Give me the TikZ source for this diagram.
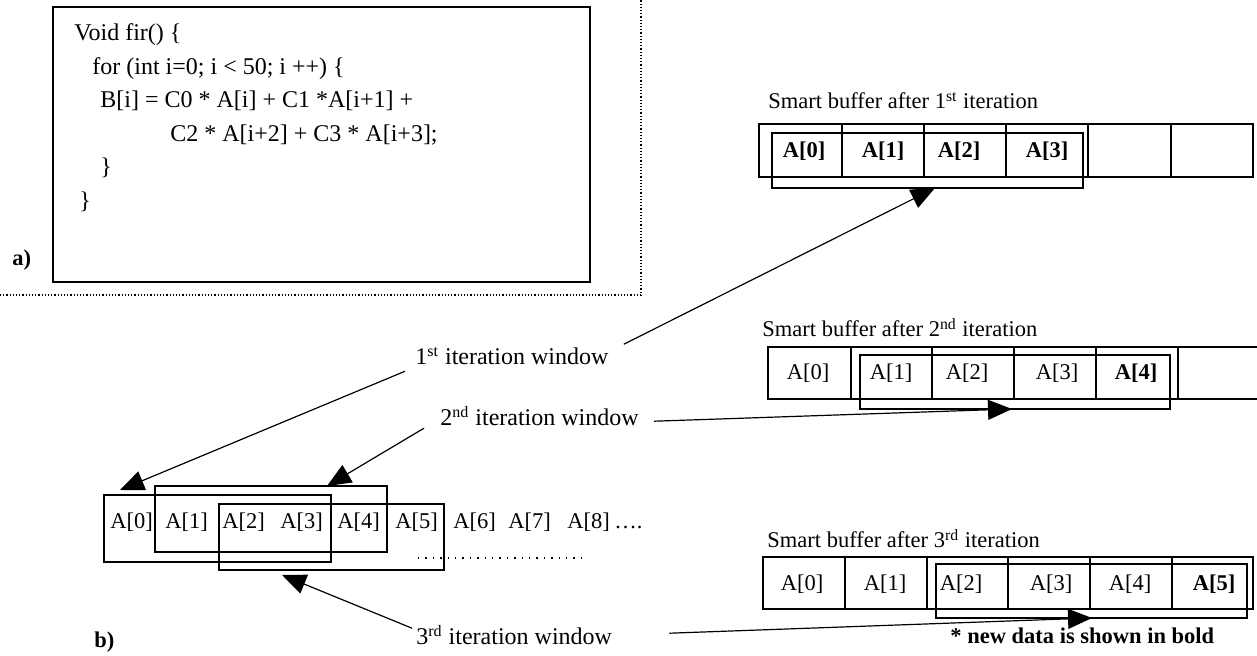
\documentclass[tikz,border=0pt]{standalone}
\usepackage{fontspec}
\setmainfont{Liberation Serif}
\usetikzlibrary{arrows.meta,calc}
\newcommand\codefont{\fontsize{12}{14}\selectfont}
\newcommand\labfont{\fontsize{11.25}{13.5}\selectfont}
\tikzset{
  codetxt/.style={anchor=base west, inner sep=0pt, font=\codefont},
  itlabel/.style={anchor=base west, inner sep=0pt, font=\codefont},
  buftitle/.style={anchor=base west, inner sep=0pt, font=\labfont},
  celltxt/.style={anchor=base, inner sep=0pt, font=\labfont},
  rowtxt/.style={anchor=base west, inner sep=0pt, font=\labfont},
  partlbl/.style={anchor=base west, inner sep=0pt, font=\labfont\bfseries},
  boxline/.style={draw=black, line width=0.75pt},
  codebox/.style={draw=black, line width=1pt},
  arr/.style={line width=0.6pt, -{Triangle[length=12pt,width=10pt]}},
  frameline/.style={line width=0.6pt, dash pattern=on 0.6pt off 1pt}
}
\begin{document}
\begin{tikzpicture}[x=0.5pt,y=-0.5pt]
\useasboundingbox (0,0) rectangle (1257,656);

% ---- a) source code of the FIR loop ----
\draw[frameline] (0,295) -- (641,295) -- (641,0);
\draw[codebox] (53,7) rectangle (590,282);
\node[codetxt] (c1) at (74,41)    {Void fir() \{};
\node[codetxt] (c2) at (92,74.5)  {for (int i=0; i < 50; i ++) \{};
\node[codetxt] (c3) at (100,108)  {B[i] = C0 * A[i] + C1 *A[i+1] +};
\node[codetxt] (c4) at (170,141.5){C2 * A[i+2] + C3 * A[i+3];};
\node[codetxt] (c5) at (100,175)  {\}};
\node[codetxt] (c6) at (79,208.5) {\}};
\node[partlbl] (pa) at (12,266) {a)};

% ---- b) input array with the three iteration windows ----
\node[rowtxt] (bA0) at (110,529) {A[0]};
\node[rowtxt] (bA1) at (165,529) {A[1]};
\node[rowtxt] (bA2) at (222,529) {A[2]};
\node[rowtxt] (bA3) at (280,529) {A[3]};
\node[rowtxt] (bA4) at (337,529) {A[4]};
\node[rowtxt] (bA5) at (395,529) {A[5]};
\node[rowtxt] (bA6) at (453,529) {A[6]};
\node[rowtxt] (bA7) at (508,529) {A[7]};
\node[rowtxt] (bA8) at (567,529) {A[8]};
\node[rowtxt] (bdots) at (614,529) {….};
\draw[line width=0.7pt, dash pattern=on 0.7pt off 3pt] (418,558) -- (582,558);

\draw[boxline] (104,495) rectangle (331,562);
\draw[boxline] (155,486) rectangle (387,552);
\draw[boxline] (219,504) rectangle (444,570);
\node[partlbl] (pb) at (94,647) {b)};

% ---- window labels ----
\node[itlabel] (lab1) at (415,365) {1\textsuperscript{st} iteration window};
\node[itlabel] (lab2) at (440,426) {2\textsuperscript{nd} iteration window};
\node[itlabel] (lab3) at (416,645) {3\textsuperscript{rd} iteration window};

% ---- smart buffer after 1st iteration ----
\node[buftitle] (t1) at (768,109) {Smart buffer after 1\textsuperscript{st} iteration};
\draw[boxline] (759,124) rectangle (1253,177);
\foreach \x in {842,924,1006,1088,1171} \draw[boxline] (\x,124) -- (\x,177);
\draw[boxline] (772,133) rectangle (1083,188);
\node[celltxt] (s10) at (804,158) {\bfseries A[0]};
\node[celltxt] (s11) at (883,158) {\bfseries A[1]};
\node[celltxt] (s12) at (959,158) {\bfseries A[2]};
\node[celltxt] (s13) at (1047,158) {\bfseries A[3]};

% ---- smart buffer after 2nd iteration ----
\node[buftitle] (t2) at (762,337) {Smart buffer after 2\textsuperscript{nd} iteration};
\draw[boxline] (1257,347) -- (768,347) -- (768,399) -- (1257,399);
\foreach \x in {851,932,1014,1096,1178} \draw[boxline] (\x,347) -- (\x,399);
\draw[boxline] (860,355) rectangle (1170,409);
\node[celltxt] (s20) at (808,380) {A[0]};
\node[celltxt] (s21) at (891,380) {A[1]};
\node[celltxt] (s22) at (967,380) {A[2]};
\node[celltxt] (s23) at (1057,380) {A[3]};
\node[celltxt] (s24) at (1136,380) {\bfseries A[4]};

% ---- smart buffer after 3rd iteration ----
\node[buftitle] (t3) at (767,548) {Smart buffer after 3\textsuperscript{rd} iteration};
\draw[boxline] (763,557) rectangle (1253,609);
\foreach \x in {845,927,1008,1090,1172} \draw[boxline] (\x,557) -- (\x,609);
\draw[boxline] (936,564) rectangle (1247,618);
\node[celltxt] (s30) at (802,591) {A[0]};
\node[celltxt] (s31) at (885,591) {A[1]};
\node[celltxt] (s32) at (961,591) {A[2]};
\node[celltxt] (s33) at (1051,591) {A[3]};
\node[celltxt] (s34) at (1130,591) {A[4]};
\node[celltxt] (s35) at (1214,591) {\bfseries A[5]};

\node[rowtxt, font=\labfont\bfseries] (note) at (950,644) {* new data is shown in bold};

% ---- arrow end points on the windows ----
\coordinate (w1a) at (120,490);
\coordinate (w1b) at (935,188);
\coordinate (w2a) at (327,486);
\coordinate (w2b) at (1012,409);
\coordinate (w3a) at (282,575);
\coordinate (w3b) at (1092,618);

% ---- connectors ----
\draw[arr] ($(lab1.west)+(-10,15)$) -- (w1a);
\draw[arr] ($(lab1.east)+(15,-12)$) -- (w1b);
\draw[arr] ($(lab2.west)+(-16,12)$) -- (w2a);
\draw[arr] ($(lab2.east)+(15,5)$) -- (w2b);
\draw[arr] ($(lab3.west)+(-4,-7)$) -- (w3a);
\draw[arr] ($(lab3.east)+(57,-2)$) -- (w3b);
\end{tikzpicture}
\end{document}
